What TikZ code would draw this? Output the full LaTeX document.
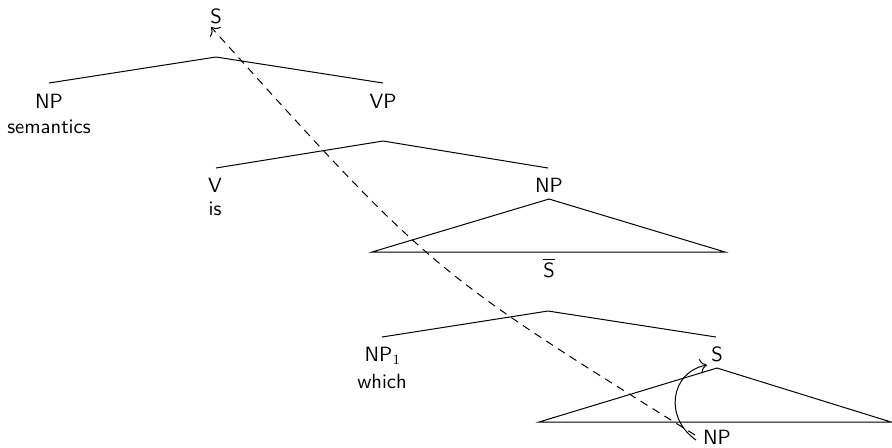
\documentclass[tikz,border=0pt]{standalone}
\usetikzlibrary{arrows.meta}
\begin{document}
\begin{tikzpicture}[x=0.5pt,y=-0.5pt,
  every node/.style={font=\sffamily\fontsize{10.3}{12}\selectfont, inner sep=0pt},
  branch/.style={line width=0.5pt},
  trace/.style={line width=0.5pt, dash pattern=on 4pt off 3pt, -{To[scale=1.3]}},
  move/.style={line width=0.5pt, -{To[scale=1.3]}}]
\useasboundingbox (0,0) rectangle (892,447);
% level 1
\node (s0) at (216,16) {S};
\coordinate (a1) at (216,57);
\coordinate (l1) at (49,83);
\coordinate (r1) at (383,83);
\node (np1) at (49,101) {NP};
\node (sem) at (49,127) {semantics};
\node (vp) at (383,101) {VP};
\draw[branch] (l1) -- (a1) -- (r1);
% level 2
\coordinate (a2) at (383,141);
\coordinate (l2) at (216,168);
\coordinate (r2) at (548,168);
\node (v) at (215,185) {V};
\node (is) at (215,209) {is};
\node (np2) at (549,185) {NP};
\draw[branch] (l2) -- (a2) -- (r2);
% triangle 1
\coordinate (t1a) at (549,199);
\coordinate (t1l) at (372,252);
\coordinate (t1r) at (725,252);
\draw[branch] (t1l) -- (t1a) -- (t1r) -- cycle;
\node (sbar) at (549,268) {$\overline{\mbox{S}}$};
% level 3
\coordinate (a3) at (548,311);
\coordinate (l3) at (382,337);
\coordinate (r3) at (716,337);
\node (np3) at (383,356) {NP$_1$};
\node (which) at (382,381) {which};
\node (s2) at (717,354) {S};
\draw[branch] (l3) -- (a3) -- (r3);
% triangle 2
\coordinate (t2a) at (717,368);
\coordinate (t2l) at (539,422);
\coordinate (t2r) at (891,422);
\draw[branch] (t2l) -- (t2a) -- (t2r) -- cycle;
\node (np4) at (717,437) {NP};
% arrows
\coordinate (d0) at (695,435);
\coordinate (d1) at (211,27);
\draw[trace] (d0) .. controls (430,270) .. (d1);
\coordinate (c0) at (696,440);
\coordinate (c1) at (707,365);
\draw[move] (c0) .. controls (664,418) and (670,372) .. (c1);
\end{tikzpicture}
\end{document}
